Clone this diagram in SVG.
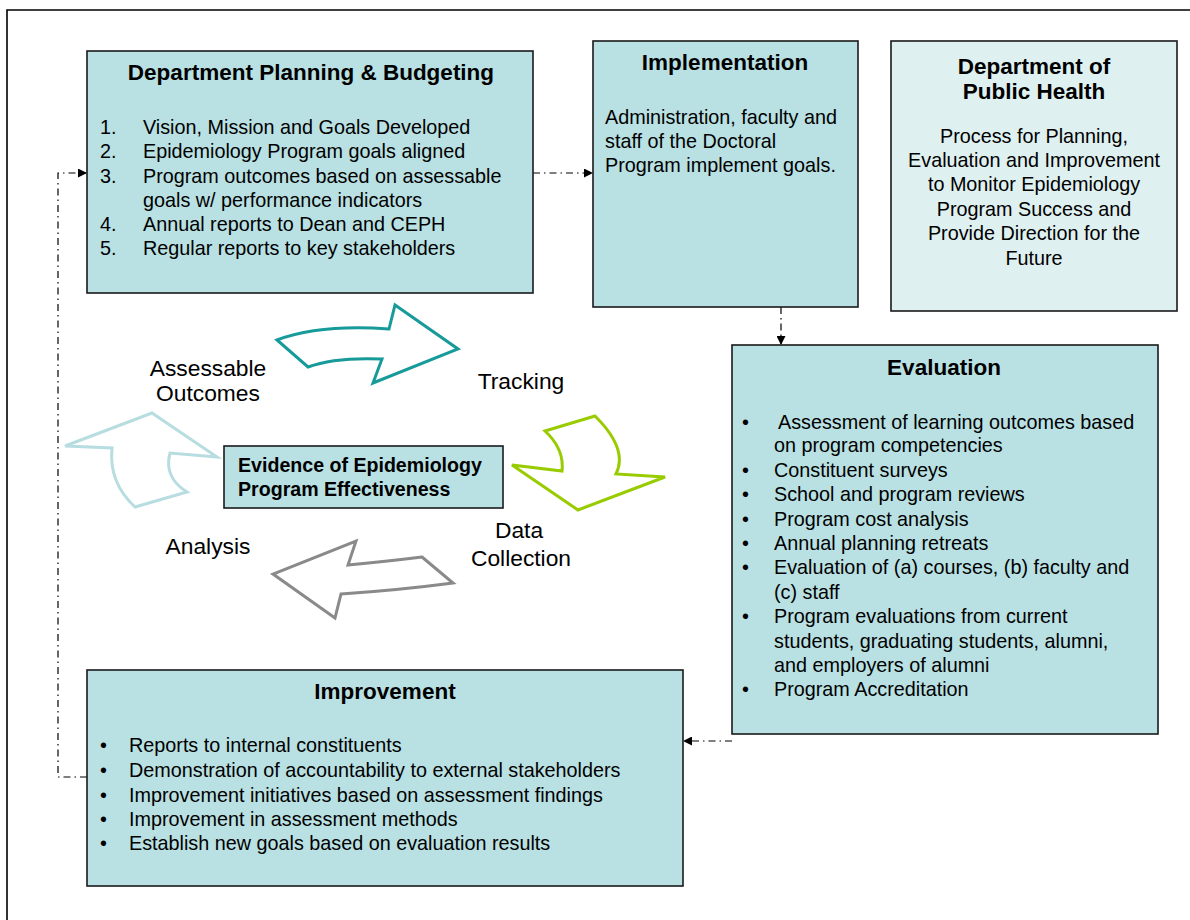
<svg xmlns="http://www.w3.org/2000/svg" width="1190" height="920" viewBox="0 0 1190 920">
<defs>
<style>
.box{fill:#b9e0e3;stroke:#1a1a1a;stroke-width:1.6}
.box2{fill:#dff0f1;stroke:#1a1a1a;stroke-width:1.6}
.t{font-family:"Liberation Sans",Arial,sans-serif;font-size:19.8px;fill:#000}
.h{font-family:"Liberation Sans",Arial,sans-serif;font-size:22.5px;font-weight:bold;fill:#000;text-anchor:middle}
.e{font-family:"Liberation Sans",Arial,sans-serif;font-size:19.6px;font-weight:bold;fill:#000}
.c{text-anchor:middle}
.lbl{font-family:"Liberation Sans",Arial,sans-serif;font-size:22.8px;fill:#000;text-anchor:middle}
.con{fill:none;stroke:#000;stroke-width:1.2;stroke-dasharray:7,4,1.5,4}
.arr{fill:none;stroke-width:3;stroke-linejoin:miter}
</style>
<marker id="ah" markerWidth="9" markerHeight="9" refX="8" refY="4.5" orient="auto" markerUnits="userSpaceOnUse">
<path d="M0,0 L9,4.5 L0,9 Z" fill="#000"/>
</marker>
</defs>
<rect width="1190" height="920" fill="#fff"/>
<path d="M7,925 V10 H1195" fill="none" stroke="#000" stroke-width="1.6"/>

<g id="connectors">
<line class="con" x1="533" y1="173" x2="592" y2="173" marker-end="url(#ah)"/>
<line class="con" x1="781" y1="307" x2="781" y2="344" marker-end="url(#ah)"/>
<line class="con" x1="732" y1="741" x2="684" y2="741" marker-end="url(#ah)"/>
<polyline class="con" points="87,777 58,777 58,173 86,173" marker-end="url(#ah)"/>
</g>

<g id="planning">
<rect class="box" x="87" y="51" width="446" height="242"/>
<text class="h" x="311" y="80">Department Planning &amp; Budgeting</text>
<text class="t" x="100" y="134">1.</text><text class="t" x="143" y="134">Vision, Mission and Goals Developed</text>
<text class="t" x="100" y="158">2.</text><text class="t" x="143" y="158">Epidemiology Program goals aligned</text>
<text class="t" x="100" y="183">3.</text><text class="t" x="143" y="183">Program outcomes based on assessable</text>
<text class="t" x="143" y="207">goals w/ performance indicators</text>
<text class="t" x="100" y="231">4.</text><text class="t" x="143" y="231">Annual reports to Dean and CEPH</text>
<text class="t" x="100" y="255">5.</text><text class="t" x="143" y="255">Regular reports to key stakeholders</text>
</g>

<g id="implementation">
<rect class="box" x="593" y="41" width="265" height="266"/>
<text class="h" x="725" y="70">Implementation</text>
<text class="t" x="605" y="124">Administration, faculty and</text>
<text class="t" x="605" y="148">staff of the Doctoral</text>
<text class="t" x="605" y="172">Program implement goals.</text>
</g>

<g id="public-health">
<rect class="box2" x="891" y="41" width="286" height="270"/>
<text class="h" x="1034" y="74">Department of</text>
<text class="h" x="1034" y="99">Public Health</text>
<text class="t c" x="1034" y="143">Process for Planning,</text>
<text class="t c" x="1034" y="167">Evaluation and Improvement</text>
<text class="t c" x="1034" y="191">to Monitor Epidemiology</text>
<text class="t c" x="1034" y="216">Program Success and</text>
<text class="t c" x="1034" y="240">Provide Direction for the</text>
<text class="t c" x="1034" y="265">Future</text>
</g>

<g id="evaluation">
<rect class="box" x="732" y="345" width="426" height="389"/>
<text class="h" x="944" y="375">Evaluation</text>
<text class="t" x="742" y="429">•</text><text class="t" x="778" y="429">Assessment of learning outcomes based</text>
<text class="t" x="774" y="452">on program competencies</text>
<text class="t" x="742" y="477">•</text><text class="t" x="774" y="477">Constituent surveys</text>
<text class="t" x="742" y="501">•</text><text class="t" x="774" y="501">School and program reviews</text>
<text class="t" x="742" y="526">•</text><text class="t" x="774" y="526">Program cost analysis</text>
<text class="t" x="742" y="550">•</text><text class="t" x="774" y="550">Annual planning retreats</text>
<text class="t" x="742" y="574">•</text><text class="t" x="774" y="574">Evaluation of (a) courses, (b) faculty and</text>
<text class="t" x="774" y="599">(c) staff</text>
<text class="t" x="742" y="623">•</text><text class="t" x="774" y="623">Program evaluations from current</text>
<text class="t" x="774" y="648">students, graduating students, alumni,</text>
<text class="t" x="774" y="672">and employers of alumni</text>
<text class="t" x="742" y="696">•</text><text class="t" x="774" y="696">Program Accreditation</text>
</g>

<g id="improvement">
<rect class="box" x="87" y="670" width="596" height="216"/>
<text class="h" x="385" y="699">Improvement</text>
<text class="t" x="100" y="752">•</text><text class="t" x="129" y="752">Reports to internal constituents</text>
<text class="t" x="100" y="777">•</text><text class="t" x="129" y="777">Demonstration of accountability to external stakeholders</text>
<text class="t" x="100" y="802">•</text><text class="t" x="129" y="802">Improvement initiatives based on assessment findings</text>
<text class="t" x="100" y="826">•</text><text class="t" x="129" y="826">Improvement in assessment methods</text>
<text class="t" x="100" y="850">•</text><text class="t" x="129" y="850">Establish new goals based on evaluation results</text>
</g>

<g id="evidence">
<rect class="box" x="224" y="446" width="279" height="62"/>
<text class="e" x="238" y="472">Evidence of Epidemiology</text>
<text class="e" x="238" y="496">Program Effectiveness</text>
</g>

<g id="cycle-arrows">
<path class="arr" stroke="#179a9a" d="M277,340 Q320,324 389,329 L395,305 L458,349 L373,383 L382,359 Q335,357 308,367 Z"/>
<path class="arr" stroke="#99cc00" d="M545,431 L595,416 Q628.5,449 616,474 L665,477 L578,510 L512,465 L562,471 Q564.5,449 545,431 Z"/>
<path class="arr" stroke="#8a8a8a" d="M422,557 L453,583 Q400,590 341,594 L335,618 L273,574 L356,541 L348,565 Q390,561 422,557 Z"/>
<path class="arr" stroke="#b7dde0" d="M152,413 L217,457 L170,453 Q163.5,477.5 187,492 L135,507 Q108.5,482.5 112,448 L65,446 Z"/>
</g>

<g id="labels">
<text class="lbl" x="208" y="376">Assessable</text>
<text class="lbl" x="208" y="401">Outcomes</text>
<text class="lbl" x="521" y="389">Tracking</text>
<text class="lbl" x="519" y="538">Data</text>
<text class="lbl" x="521" y="566">Collection</text>
<text class="lbl" x="208" y="554">Analysis</text>
</g>
</svg>
